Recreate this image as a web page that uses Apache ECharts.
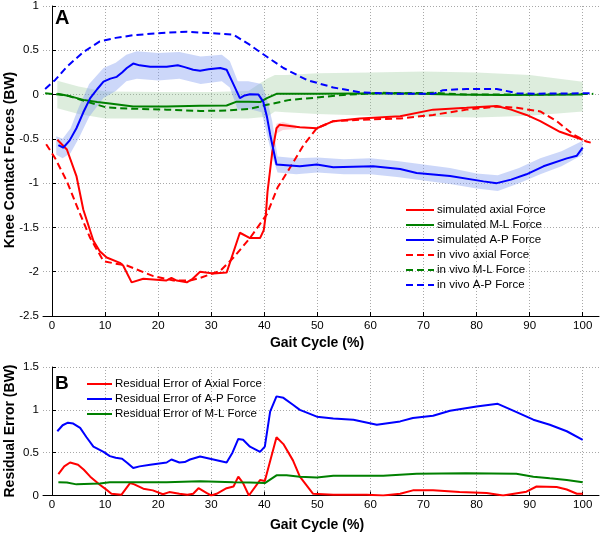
<!DOCTYPE html>
<html><head><meta charset="utf-8">
<script src="https://cdn.jsdelivr.net/npm/echarts@6/dist/echarts.min.js"></script>
<style>html,body{margin:0;padding:0;background:#fff}#c{width:600px;height:533px}</style>
</head><body><div id="c"></div>
<script>
// ---------- tick labels ----------
const xTickValues = [0,10,20,30,40,50,60,70,80,90,100];
const topYTicks = [-2.5,-2,-1.5,-1,-0.5,0,0.5,1];
const botYTicks = [0,0.5,1,1.5];

// ---------- Panel A : knee contact forces (BW) vs gait cycle (%) ----------
const simAxial = [[1,-0.51],[2.8,-0.62],[4.6,-0.92],[5.9,-1.3],[7.8,-1.65],[9,-1.77],[10.3,-1.84],[12.8,-1.9],[13.4,-1.93],[15,-2.12],[17.2,-2.08],[19.7,-2.09],[21.5,-2.1],[22.5,-2.07],[23.5,-2.1],[25.4,-2.12],[26.5,-2.08],[27.9,-2.0],[30.4,-2.02],[32.9,-2.01],[35.4,-1.56],[37.3,-1.62],[39.2,-1.62],[39.9,-1.53],[40.3,-1.35],[40.6,-1.1],[41,-0.9],[41.5,-0.65],[42.3,-0.38],[42.9,-0.34],[46.7,-0.37],[49.9,-0.38],[53,-0.3],[58,-0.27],[65.6,-0.245],[71.8,-0.17],[78.1,-0.15],[83.8,-0.13],[86.5,-0.17],[89.4,-0.23],[92,-0.3],[95.7,-0.42],[100,-0.51]];
const vivoAxial = [[-1.1,-0.56],[0.6,-0.72],[2.8,-0.98],[5.3,-1.35],[7.2,-1.62],[9.7,-1.88],[12,-1.91],[14.1,-1.93],[19.1,-2.05],[22.9,-2.1],[26,-2.1],[27.9,-2.07],[31.7,-1.99],[34.2,-1.84],[37.3,-1.62],[40.5,-1.35],[42.5,-1.05],[44.8,-0.83],[47.4,-0.57],[49.9,-0.38],[53,-0.3],[58,-0.285],[65.6,-0.27],[71.8,-0.23],[78.1,-0.17],[83.8,-0.135],[87.6,-0.15],[92,-0.19],[95.1,-0.3],[98.2,-0.45],[100.7,-0.53],[102,-0.55]];
const simAP = [[1.2,-0.57],[2.1,-0.6],[3.3,-0.52],[4.6,-0.38],[5.9,-0.2],[7.2,-0.04],[8.5,0.06],[9.7,0.146],[11,0.18],[12.2,0.2],[13.2,0.25],[14.1,0.3],[15.3,0.35],[16.5,0.33],[18.5,0.315],[21.6,0.315],[23.7,0.33],[25,0.31],[26.6,0.28],[27.9,0.27],[29.5,0.285],[31.7,0.3],[32.9,0.28],[34,0.14],[35.4,-0.04],[36.3,-0.01],[37.3,0.004],[38.9,0.0],[39.8,-0.08],[40.5,-0.25],[41.1,-0.45],[42.3,-0.79],[46.7,-0.81],[49.9,-0.79],[53,-0.82],[60.5,-0.81],[65.6,-0.84],[68.7,-0.885],[75,-0.92],[81.3,-0.98],[83.8,-1.0],[86.5,-0.96],[89.4,-0.9],[92.6,-0.81],[97,-0.72],[98.9,-0.69],[100,-0.6]];
const vivoAP = [[-1.3,0.064],[0.6,0.165],[2.8,0.315],[5.9,0.48],[9,0.6],[12,0.64],[15.3,0.67],[21.6,0.7],[25.4,0.71],[27.9,0.7],[31,0.69],[34.2,0.675],[37.3,0.56],[39.2,0.48],[43.6,0.3],[48,0.165],[53,0.08],[58,0.026],[62.4,0.015],[65.6,0.008],[71.8,0.008],[73.7,0.05],[78.1,0.064],[83.8,0.064],[87.6,0.015],[91.4,0.01],[102,0.015]];
const simML = [[1,0.01],[3.5,-0.02],[5.9,-0.06],[8.5,-0.085],[10.9,-0.1],[15.3,-0.135],[21.6,-0.135],[27.9,-0.125],[32.9,-0.124],[34.8,-0.08],[37,-0.08],[39.2,-0.085],[40.5,-0.04],[42.3,0.008],[50,0.008],[65.6,0.015],[75,0.0],[85,-0.005],[100,0.0]];
const vivoML = [[-1.3,0.015],[2.8,-0.01],[6.5,-0.08],[10.3,-0.146],[15.3,-0.16],[21.6,-0.17],[27.9,-0.185],[32.9,-0.18],[37.3,-0.16],[40.5,-0.116],[44.8,-0.06],[49.9,-0.034],[54.9,-0.004],[62.4,0.02],[65.6,0.015],[71.8,0.02],[78.1,0.0],[91.4,0.0],[102,0.008]];

// shaded variability bands
const apBandX  = [0.8,2,3.5,5,7,9.7,12,14,16,20,24,28,32,33.5,35,37,39.5,40.5,41.5,42.5,46,50,55,60,65,70,75,80,84,88,92,96,100];
const apBandHi = [-0.47,-0.5,-0.38,-0.15,0.12,0.3,0.36,0.45,0.49,0.47,0.48,0.43,0.45,0.38,0.15,0.15,0.12,-0.05,-0.3,-0.7,-0.72,-0.71,-0.73,-0.72,-0.75,-0.79,-0.83,-0.89,-0.91,-0.83,-0.72,-0.64,-0.52];
const apBandLo = [-0.68,-0.72,-0.66,-0.5,-0.25,-0.04,0.04,0.15,0.18,0.16,0.18,0.12,0.15,0.08,-0.17,-0.16,-0.2,-0.45,-0.7,-0.88,-0.9,-0.88,-0.9,-0.9,-0.93,-0.97,-1.01,-1.06,-1.09,-1.0,-0.9,-0.81,-0.68];
const mlBandX  = [1,5,10,20,30,37,40.5,42,44,50,60,70,80,90,100];
const mlBandHi = [0.157,0.09,0.034,0.03,0.03,0.04,0.18,0.22,0.22,0.24,0.25,0.26,0.25,0.22,0.146];
const mlBandLo = [-0.154,-0.22,-0.27,-0.27,-0.27,-0.27,-0.25,-0.19,-0.2,-0.22,-0.24,-0.25,-0.26,-0.24,-0.19];
const axBandX  = [40.8,41.5,42.3,43.5,46];
const axBandHi = [-0.95,-0.6,-0.33,-0.31,-0.35];
const axBandLo = [-1.0,-0.72,-0.44,-0.4,-0.39];

// ---------- Panel B : residual errors (BW) ----------
const resAP = [[1,0.75],[2,0.82],[3,0.85],[4,0.84],[5.3,0.79],[6.5,0.68],[7.8,0.57],[9.7,0.51],[10.9,0.46],[12,0.44],[13.2,0.43],[14.2,0.38],[15.3,0.32],[16.5,0.34],[18.5,0.36],[21.6,0.385],[22.5,0.42],[24,0.385],[25,0.39],[26,0.42],[27.9,0.455],[30.4,0.42],[32.9,0.385],[34,0.5],[35.1,0.66],[36,0.65],[37.3,0.57],[39.2,0.51],[40.1,0.57],[41.1,0.98],[42.3,1.157],[43.6,1.14],[45.4,1.06],[46.7,1.0],[49.9,0.92],[53,0.9],[56.8,0.885],[61.2,0.826],[65.6,0.865],[68,0.905],[71.8,0.93],[75,0.99],[80,1.04],[84,1.07],[86.9,0.99],[90.7,0.885],[93.8,0.826],[97,0.75],[100,0.65]];
const resAxial = [[1.2,0.25],[2.3,0.34],[3.4,0.385],[4.9,0.36],[6,0.3],[7.2,0.22],[9,0.125],[10,0.08],[11.2,0.02],[13.1,0.01],[14.7,0.145],[15.5,0.13],[17.2,0.08],[19,0.06],[20.9,0.015],[22.1,0.04],[24,0.02],[25.5,0.01],[26.6,0.02],[27.6,0.085],[29.1,0.03],[30,0.0],[31,0.02],[32.9,0.085],[34.2,0.105],[35.1,0.22],[36,0.145],[37.1,0.0],[39.2,0.18],[40.1,0.17],[42.3,0.68],[43.6,0.6],[45.4,0.41],[46.7,0.22],[49.2,0.02],[53,0.01],[59.3,0.01],[62.4,0.0],[65.6,0.02],[68,0.06],[71.8,0.06],[76.8,0.04],[81.9,0.03],[85,0.0],[89.4,0.045],[91.3,0.105],[95.1,0.1],[97,0.07],[98.9,0.02],[100,0.02]];
const resML = [[1.2,0.155],[2.8,0.152],[4.6,0.13],[9,0.14],[10.9,0.155],[21.6,0.155],[27.9,0.165],[34.2,0.155],[37.3,0.152],[40.1,0.145],[42.3,0.235],[44.2,0.235],[46.7,0.22],[49.9,0.21],[53,0.23],[62.4,0.23],[68.7,0.253],[78,0.26],[87.5,0.253],[90.7,0.22],[93.8,0.2],[97,0.18],[100,0.155]];

const FONT = '"Liberation Sans", Arial, Helvetica, sans-serif';
const RED = '#ff0000', GREEN = '#008000', BLUE = '#0000ff';
const XMIN = -1.7, XMAX = 103.07;

function xAxisCfg(gridIndex, margin) {
  return {
    type: 'value', gridIndex, min: XMIN, max: XMAX,
    axisLine: { show: true, onZero: false, lineStyle: { color: '#000', width: 1 } },
    axisTick: { show: true, inside: true, length: 4, customValues: xTickValues, lineStyle: { color: '#000' } },
    axisLabel: { customValues: xTickValues, color: '#000', fontFamily: FONT, fontSize: 11.5, margin },
    splitLine: { show: true, lineStyle: { color: '#a8a8a8', type: [1, 2], width: 1 } }
  };
}
function yAxisCfg(gridIndex, min, max) {
  return {
    type: 'value', gridIndex, min, max, interval: 0.5,
    axisLine: { show: true, lineStyle: { color: '#000', width: 1 } },
    axisTick: { show: true, inside: true, length: 4, lineStyle: { color: '#000' } },
    axisLabel: { color: '#000', fontFamily: FONT, fontSize: 11.5, margin: 4 },
    splitLine: { show: true, lineStyle: { color: '#a8a8a8', type: [1, 2], width: 1 } }
  };
}
function lineS(name, data, color, dashed, xi, yi) {
  return { name, type: 'line', data, xAxisIndex: xi, yAxisIndex: yi, symbol: 'none', smooth: false, z: 3,
    lineStyle: { color, width: 2, type: dashed ? [7, 4] : 'solid' }, itemStyle: { color } };
}
function bandS(xs, lo, hi, fill) {
  return { type: 'custom', xAxisIndex: 0, yAxisIndex: 0, data: [[xs[0], lo[0]]], silent: true, z: 1,
    renderItem: function (params, api) {
      const pts = [];
      for (let i = 0; i < xs.length; i++) pts.push(api.coord([xs[i], hi[i]]));
      for (let i = xs.length - 1; i >= 0; i--) pts.push(api.coord([xs[i], lo[i]]));
      return { type: 'polygon', shape: { points: pts }, style: { fill } };
    } };
}

const chart = echarts.init(document.getElementById('c'), null, { renderer: 'canvas' });
chart.setOption({
  animation: false,
  backgroundColor: '#fff',
  grid: [
    { left: 43, top: 5, width: 556, height: 311 },
    { left: 43, top: 367, width: 556, height: 128.5 }
  ],
  xAxis: [xAxisCfg(0, 4), xAxisCfg(1, 3)],
  yAxis: [yAxisCfg(0, -2.5, 1), yAxisCfg(1, 0, 1.5)],
  legend: [
    { orient: 'vertical', left: 400, top: 199, itemWidth: 28, itemHeight: 12, itemGap: 3,
      itemStyle: { opacity: 0 },
      textStyle: { color: '#000', fontFamily: FONT, fontSize: 11.5, padding: [0, 0, 0, -2] },
      data: ['simulated axial Force', 'simulated M-L Force', 'simulated A-P Force', 'in vivo axial Force', 'in vivo M-L Force', 'in vivo A-P Force'] },
    { orient: 'vertical', left: 81, top: 373, itemWidth: 25, itemHeight: 12, itemGap: 3,
      itemStyle: { opacity: 0 },
      textStyle: { color: '#000', fontFamily: FONT, fontSize: 11.5, padding: [0, 0, 0, -2] },
      data: ['Residual Error of Axial Force', 'Residual Error of A-P Force', 'Residual Error of M-L Force'] }
  ],
  graphic: [
    { type: 'text', left: 55, top: 8, style: { text: 'A', font: 'bold 20px ' + FONT, fill: '#000' } },
    { type: 'text', left: 55, top: 374, style: { text: 'B', font: 'bold 19px ' + FONT, fill: '#000' } },
    { type: 'text', x: 317, y: 343, style: { text: 'Gait Cycle (%)', font: 'bold 14px ' + FONT, fill: '#000', align: 'center', verticalAlign: 'middle' } },
    { type: 'text', x: 317, y: 525, style: { text: 'Gait Cycle (%)', font: 'bold 14px ' + FONT, fill: '#000', align: 'center', verticalAlign: 'middle' } },
    { type: 'text', x: 10, y: 160, rotation: Math.PI / 2, style: { text: 'Knee Contact Forces (BW)', font: 'bold 14px ' + FONT, fill: '#000', align: 'center', verticalAlign: 'middle' } },
    { type: 'text', x: 10, y: 431, rotation: Math.PI / 2, style: { text: 'Residual Error (BW)', font: 'bold 14px ' + FONT, fill: '#000', align: 'center', verticalAlign: 'middle' } }
  ],
  series: [
    bandS(mlBandX, mlBandLo, mlBandHi, 'rgba(150,200,150,0.32)'),
    bandS(apBandX, apBandLo, apBandHi, 'rgba(120,150,240,0.38)'),
    bandS(axBandX, axBandLo, axBandHi, 'rgba(255,150,170,0.45)'),
    lineS('in vivo M-L Force', vivoML, GREEN, true, 0, 0),
    lineS('simulated M-L Force', simML, GREEN, false, 0, 0),
    lineS('in vivo A-P Force', vivoAP, BLUE, true, 0, 0),
    lineS('in vivo axial Force', vivoAxial, RED, true, 0, 0),
    lineS('simulated axial Force', simAxial, RED, false, 0, 0),
    lineS('simulated A-P Force', simAP, BLUE, false, 0, 0),
    lineS('Residual Error of Axial Force', resAxial, RED, false, 1, 1),
    lineS('Residual Error of A-P Force', resAP, BLUE, false, 1, 1),
    lineS('Residual Error of M-L Force', resML, GREEN, false, 1, 1)
  ]
});
</script>
</body></html>
